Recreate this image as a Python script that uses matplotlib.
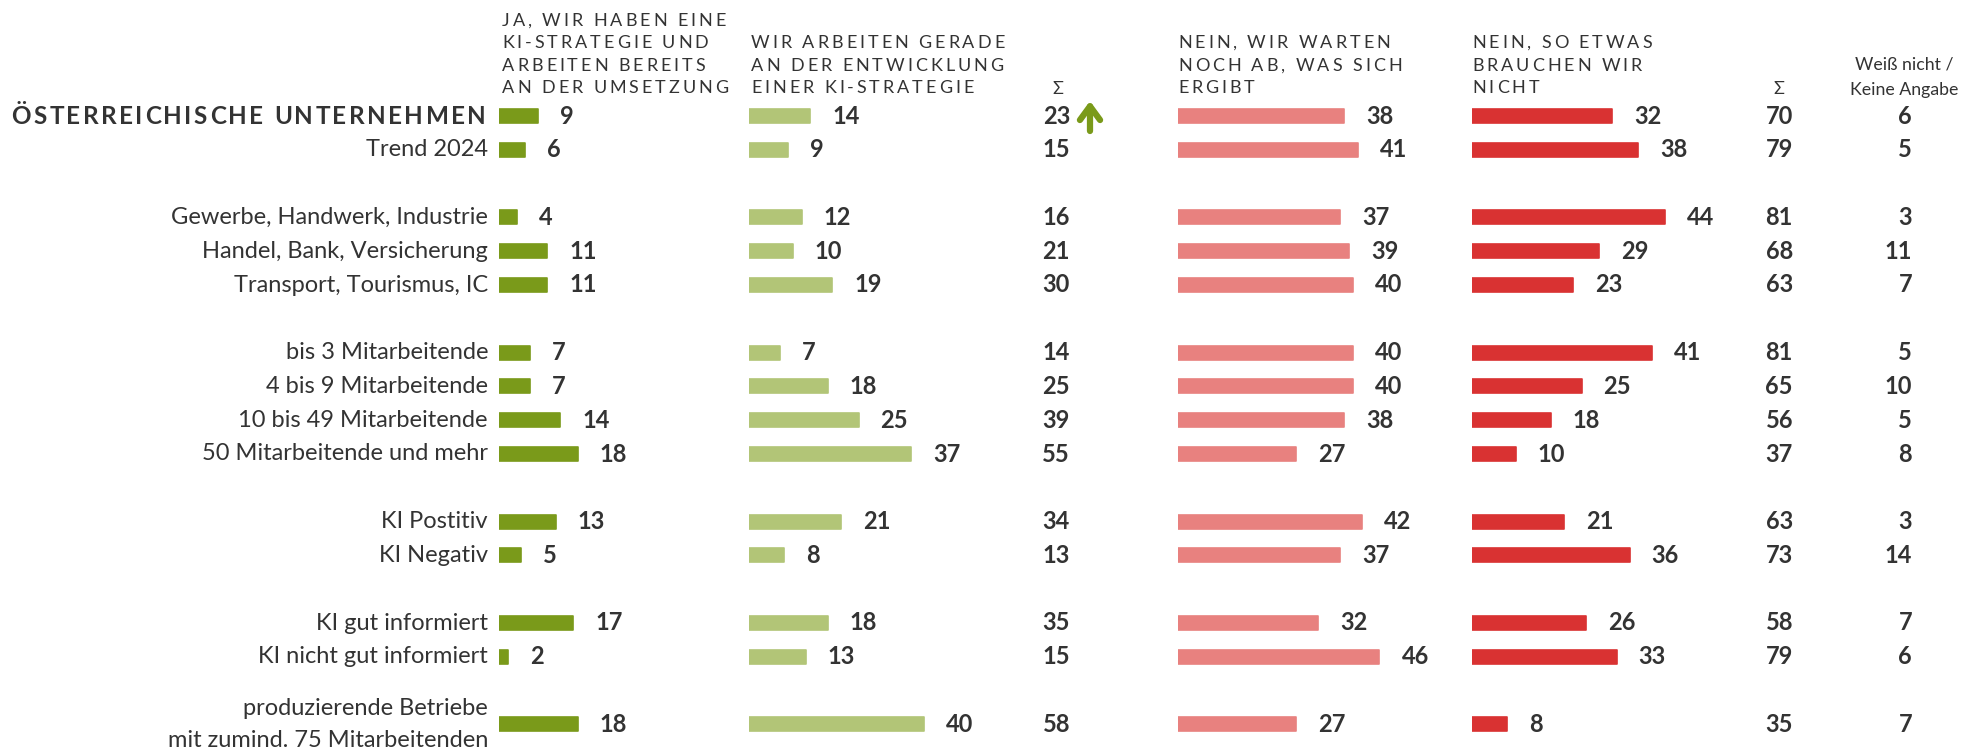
import matplotlib
matplotlib.use('Agg')
import matplotlib.pyplot as plt
from matplotlib.font_manager import FontProperties
from matplotlib.textpath import TextToPath

plt.rcParams['font.family'] = 'Lato'

W, H, DPI = 1963, 747, 100
TXT = '#333333'
C_JA, C_ENTW, C_WART, C_NEIN = '#7a9a1a', '#b2c577', '#e8817f', '#d93232'

ROWS = ['ÖSTERREICHISCHE UNTERNEHMEN', 'Trend 2024',
        'Gewerbe, Handwerk, Industrie', 'Handel, Bank, Versicherung',
        'Transport, Tourismus, IC',
        'bis 3 Mitarbeitende', '4 bis 9 Mitarbeitende', '10 bis 49 Mitarbeitende',
        '50 Mitarbeitende und mehr',
        'KI Postitiv', 'KI Negativ',
        'KI gut informiert', 'KI nicht gut informiert',
        'produzierende Betriebe\nmit zumind. 75 Mitarbeitenden']
SLOTS = [0, 1, 3, 4, 5, 7, 8, 9, 10, 12, 13, 15, 16, 18]   # blank slots between groups

JA       = [9, 6, 4, 11, 11, 7, 7, 14, 18, 13, 5, 17, 2, 18]
ENTW     = [14, 9, 12, 10, 19, 7, 18, 25, 37, 21, 8, 18, 13, 40]
SUM_JA   = [23, 15, 16, 21, 30, 14, 25, 39, 55, 34, 13, 35, 15, 58]
WARTEN   = [38, 41, 37, 39, 40, 40, 40, 38, 27, 42, 37, 32, 46, 27]
NEIN     = [32, 38, 44, 29, 23, 41, 25, 18, 10, 21, 36, 26, 33, 8]
SUM_NEIN = [70, 79, 81, 68, 63, 81, 65, 56, 37, 63, 73, 58, 79, 35]
WN       = [6, 5, 3, 11, 7, 5, 10, 5, 8, 3, 14, 7, 6, 7]

HEAD_JA   = ['JA, WIR HABEN EINE', 'KI-STRATEGIE UND', 'ARBEITEN BEREITS', 'AN DER UMSETZUNG']
HEAD_ENTW = ['WIR ARBEITEN GERADE', 'AN DER ENTWICKLUNG', 'EINER KI-STRATEGIE']
HEAD_WART = ['NEIN, WIR WARTEN', 'NOCH AB, WAS SICH', 'ERGIBT']
HEAD_NEIN = ['NEIN, SO ETWAS', 'BRAUCHEN WIR', 'NICHT']
HEAD_WN   = ['Weiß nicht /', 'Keine Angabe']

# layout (pixels)
ROW0, ROWSTEP = 116, 33.8
PX_PER_UNIT = 4.38
BAR_H = 0.42
LABEL_GAP = 22 / PX_PER_UNIT

fig = plt.figure(figsize=(W / DPI, H / DPI), dpi=DPI)
ax = fig.add_axes([0, 0, 1, 1])
ax.set_xlim(0, W)
ax.set_ylim(H, 0)
ax.axis('off')

ttp = TextToPath()


def adv_width(s, prop):
    w = ttp.get_text_width_height_descent
    return (w('H' + s + 'H', prop, ismath=False)[0]
            - w('HH', prop, ismath=False)[0]) * DPI / 72


def tracked(x, y, s, size, track, ha='left', weight='normal'):
    """Text with letter spacing, drawn char by char (pixel coords)."""
    prop = FontProperties(family='Lato', size=size, weight=weight)
    adv = [adv_width(c, prop) + track for c in s]
    total = sum(adv) - track
    x0 = x - total if ha == 'right' else x
    for c, a in zip(s, adv):
        ax.text(x0, y, c, fontproperties=prop, color=TXT, ha='left', va='center')
        x0 += a


def row_y(slot):
    return ROW0 + ROWSTEP * slot


# row labels
for i, (lab, s) in enumerate(zip(ROWS, SLOTS)):
    y = row_y(s)
    if i == 0:
        tracked(486, y, lab, 17.5, 2.4, ha='right', weight='bold')
    elif '\n' in lab:
        l1, l2 = lab.split('\n')
        ax.text(488, y - 16, l1, fontsize=17, color=TXT, ha='right', va='center')
        ax.text(488, y + 16, l2, fontsize=17, color=TXT, ha='right', va='center')
    else:
        ax.text(488, y, lab, fontsize=17, color=TXT, ha='right', va='center')

# column headers
HEAD_LINES_Y = [21, 43, 66, 88]
for x0, lines in [(502, HEAD_JA), (751, HEAD_ENTW), (1178, HEAD_WART), (1472, HEAD_NEIN)]:
    for ln, y in zip(lines, HEAD_LINES_Y[-len(lines):]):
        tracked(x0, y, ln, 13, 2.9)
ax.text(1058, 89, 'Σ', fontsize=13, color=TXT, ha='center', va='center')
ax.text(1779, 89, 'Σ', fontsize=13, color=TXT, ha='center', va='center')
ax.text(1904, 65, HEAD_WN[0], fontsize=12.8, color=TXT, ha='center', va='center')
ax.text(1904, 90, HEAD_WN[1], fontsize=12.8, color=TXT, ha='center', va='center')

# trend arrow
ax.annotate('', xy=(1090, 101), xytext=(1090, 131),
            arrowprops=dict(arrowstyle='->,head_length=0.45,head_width=0.33',
                            mutation_scale=22, color=C_JA, lw=4.5,
                            capstyle='round', joinstyle='round',
                            shrinkA=0, shrinkB=0))

# sum columns
for s, a, b, c in zip(SLOTS, SUM_JA, SUM_NEIN, WN):
    y = row_y(s)
    ax.text(1070, y, str(a), fontsize=17, weight='bold', color=TXT, ha='right', va='center')
    ax.text(1793, y, str(b), fontsize=17, weight='bold', color=TXT, ha='right', va='center')
    ax.text(1912, y, str(c), fontsize=17, weight='bold', color=TXT, ha='right', va='center')

# bar columns, each with its own value scale
ylim = ((H - ROW0) / ROWSTEP, -ROW0 / ROWSTEP)
span = 60
for x0, vals, color in [(499, JA, C_JA), (749, ENTW, C_ENTW),
                        (1178, WARTEN, C_WART), (1472, NEIN, C_NEIN)]:
    bax = fig.add_axes([x0 / W, 0, span * PX_PER_UNIT / W, 1])
    bax.set_xlim(0, span)
    bax.set_ylim(*ylim)
    bax.axis('off')
    bars = bax.barh(SLOTS, vals, height=BAR_H, color=color, edgecolor=color, linewidth=1.2)
    for p in bars:
        p.set_joinstyle('round')
    for s, v in zip(SLOTS, vals):
        bax.text(v + LABEL_GAP, s, str(v), fontsize=17, weight='bold', color=TXT,
                 ha='left', va='center', clip_on=False)

fig.savefig('out.png', dpi=DPI)
